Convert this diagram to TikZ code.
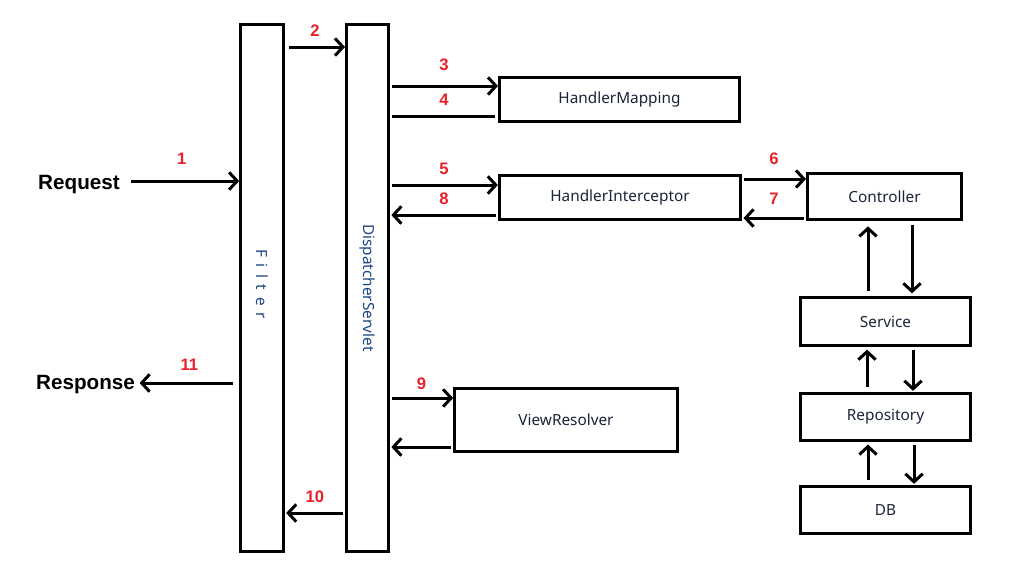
\documentclass[tikz,border=0pt]{standalone}
\usepackage{fontspec}
\setmainfont{Noto Sans}
\newfontfamily\heavyfont{Liberation Sans}
\usepackage{xcolor}
\usetikzlibrary{arrows.meta,positioning}

\definecolor{txtblue}{HTML}{1C4585}
\definecolor{boxtxt}{HTML}{1A2338}
\definecolor{numred}{HTML}{E8202A}

\begin{document}
\begin{tikzpicture}[x=0.75pt, y=-0.75pt,
  box/.style={draw, line width=2.25pt, inner sep=0pt, font=\fontsize{11.5}{13}\selectfont, text=boxtxt},
  tall/.style={box, minimum width=32pt, minimum height=395pt},
  vtext/.style={rotate=-90, font=\fontsize{11.5}{13}\selectfont, text=txtblue},
  side/.style={font=\heavyfont\bfseries\fontsize{15.5}{17}\selectfont, text=black},
  arr/.style={line width=2.25pt, -{Straight Barb[length=6pt,width=13pt]}},
  ln/.style={line width=2.25pt},
  num/.style={font=\heavyfont\bfseries\fontsize{12.5}{14}\selectfont, text=numred, inner sep=1pt}
]
  \useasboundingbox (0,0) rectangle (1024,576);

  % filter chain and dispatcher
  \node[tall] (filter) at (262,288) {};
  \node[vtext] (filtertxt) at (262,284) {F\ \,i\ \,l\ \,t\ \,e\ \,r};
  \node[tall, minimum width=31.5pt] (disp) at (367.5,288) {};
  \node[vtext] (disptxt) at (disp) {DispatcherServlet};

  % collaborators
  \node[box, minimum width=180pt, minimum height=33pt] (hmap) at (619.5,99.5) {HandlerMapping};
  \node[box, minimum width=181pt, minimum height=33pt] (hint) at (620,197.5) {HandlerInterceptor};
  \node[box, minimum width=167pt, minimum height=47pt] (view) at (566,420) {ViewResolver};
  \node[box, minimum width=115.5pt, minimum height=34.5pt] (ctrl) at (884.5,196.5) {Controller};
  \node[box, minimum width=127.5pt, minimum height=36pt] (svc) at (885.5,321.5) {Service};
  \node[box, minimum width=127.5pt, minimum height=35pt] (repo) at (885.5,417) {Repository};
  \node[box, minimum width=127.5pt, minimum height=35pt] (db) at (885.5,510) {DB};

  \node[side] (req) at (79,185) {Request};
  \node[side] (resp) at (85.5,385) {Response};

  % numbered flow
  \draw[arr, shorten <=5pt] (req.east |- 0,181) -- (filter.west |- 0,181)
    node[num, midway, above=10pt] {1};
  \draw[arr, shorten <=3pt] (filter.east |- 0,47) -- (disp.west |- 0,47)
    node[num, midway, above=5.5pt] {2};
  \draw[arr, shorten <=1.5pt] (disp.east |- 0,86) -- (hmap.west |- 0,86)
    node[num, midway, above=9pt] {3};
  \draw[ln, shorten <=2pt, shorten >=1.5pt] (hmap.west |- 0,116) -- (disp.east |- 0,116)
    node[num, midway, above=5.5pt] {4};
  \draw[arr, shorten <=1.5pt] (disp.east |- 0,185) -- (hint.west |- 0,185)
    node[num, midway, above=5.5pt] {5};
  \draw[arr, shorten <=1.5pt, shorten >=1pt] (hint.west |- 0,215) -- (disp.east |- 0,215)
    node[num, midway, above=5.5pt] {8};
  \draw[arr, shorten <=1.5pt] (hint.east |- 0,179) -- (ctrl.west |- 0,179)
    node[num, midway, above=8.5pt] {6};
  \draw[arr, shorten <=1.5pt, shorten >=1pt] (ctrl.west |- 0,218) -- (hint.east |- 0,218)
    node[num, midway, above=8pt] {7};
  \draw[arr, shorten <=1.5pt] (disp.east |- 0,398) -- (view.west |- 0,398)
    node[num, midway, above=4.5pt] {9};
  \draw[arr, shorten <=2pt, shorten >=1pt] (view.west |- 0,447) -- (disp.east |- 0,447);
  \draw[arr, shorten <=1.5pt, shorten >=1pt] (disp.west |- 0,513) -- (filter.east |- 0,513)
    node[num, midway, above=5.5pt] {10};
  \draw[arr, shorten <=5pt] (filter.west |- 0,383) -- (resp.east |- 0,383)
    node[num, midway, above=7.5pt] {11};

  % controller down to db and back
  \draw[arr, shorten <=4pt, shorten >=4pt] (svc.north -| 868,0) -- (ctrl.south -| 868,0);
  \draw[arr, shorten <=3pt, shorten >=2pt] (ctrl.south -| 912,0) -- (svc.north -| 912,0);
  \draw[arr, shorten <=4pt, shorten >=2pt] (repo.north -| 867,0) -- (svc.south -| 867,0);
  \draw[arr, shorten <=2pt, shorten >=1pt] (svc.south -| 913,0) -- (repo.north -| 913,0);
  \draw[arr, shorten <=4pt, shorten >=2pt] (db.north -| 868,0) -- (repo.south -| 868,0);
  \draw[arr, shorten <=2pt, shorten >=1pt] (repo.south -| 914,0) -- (db.north -| 914,0);
\end{tikzpicture}
\end{document}
